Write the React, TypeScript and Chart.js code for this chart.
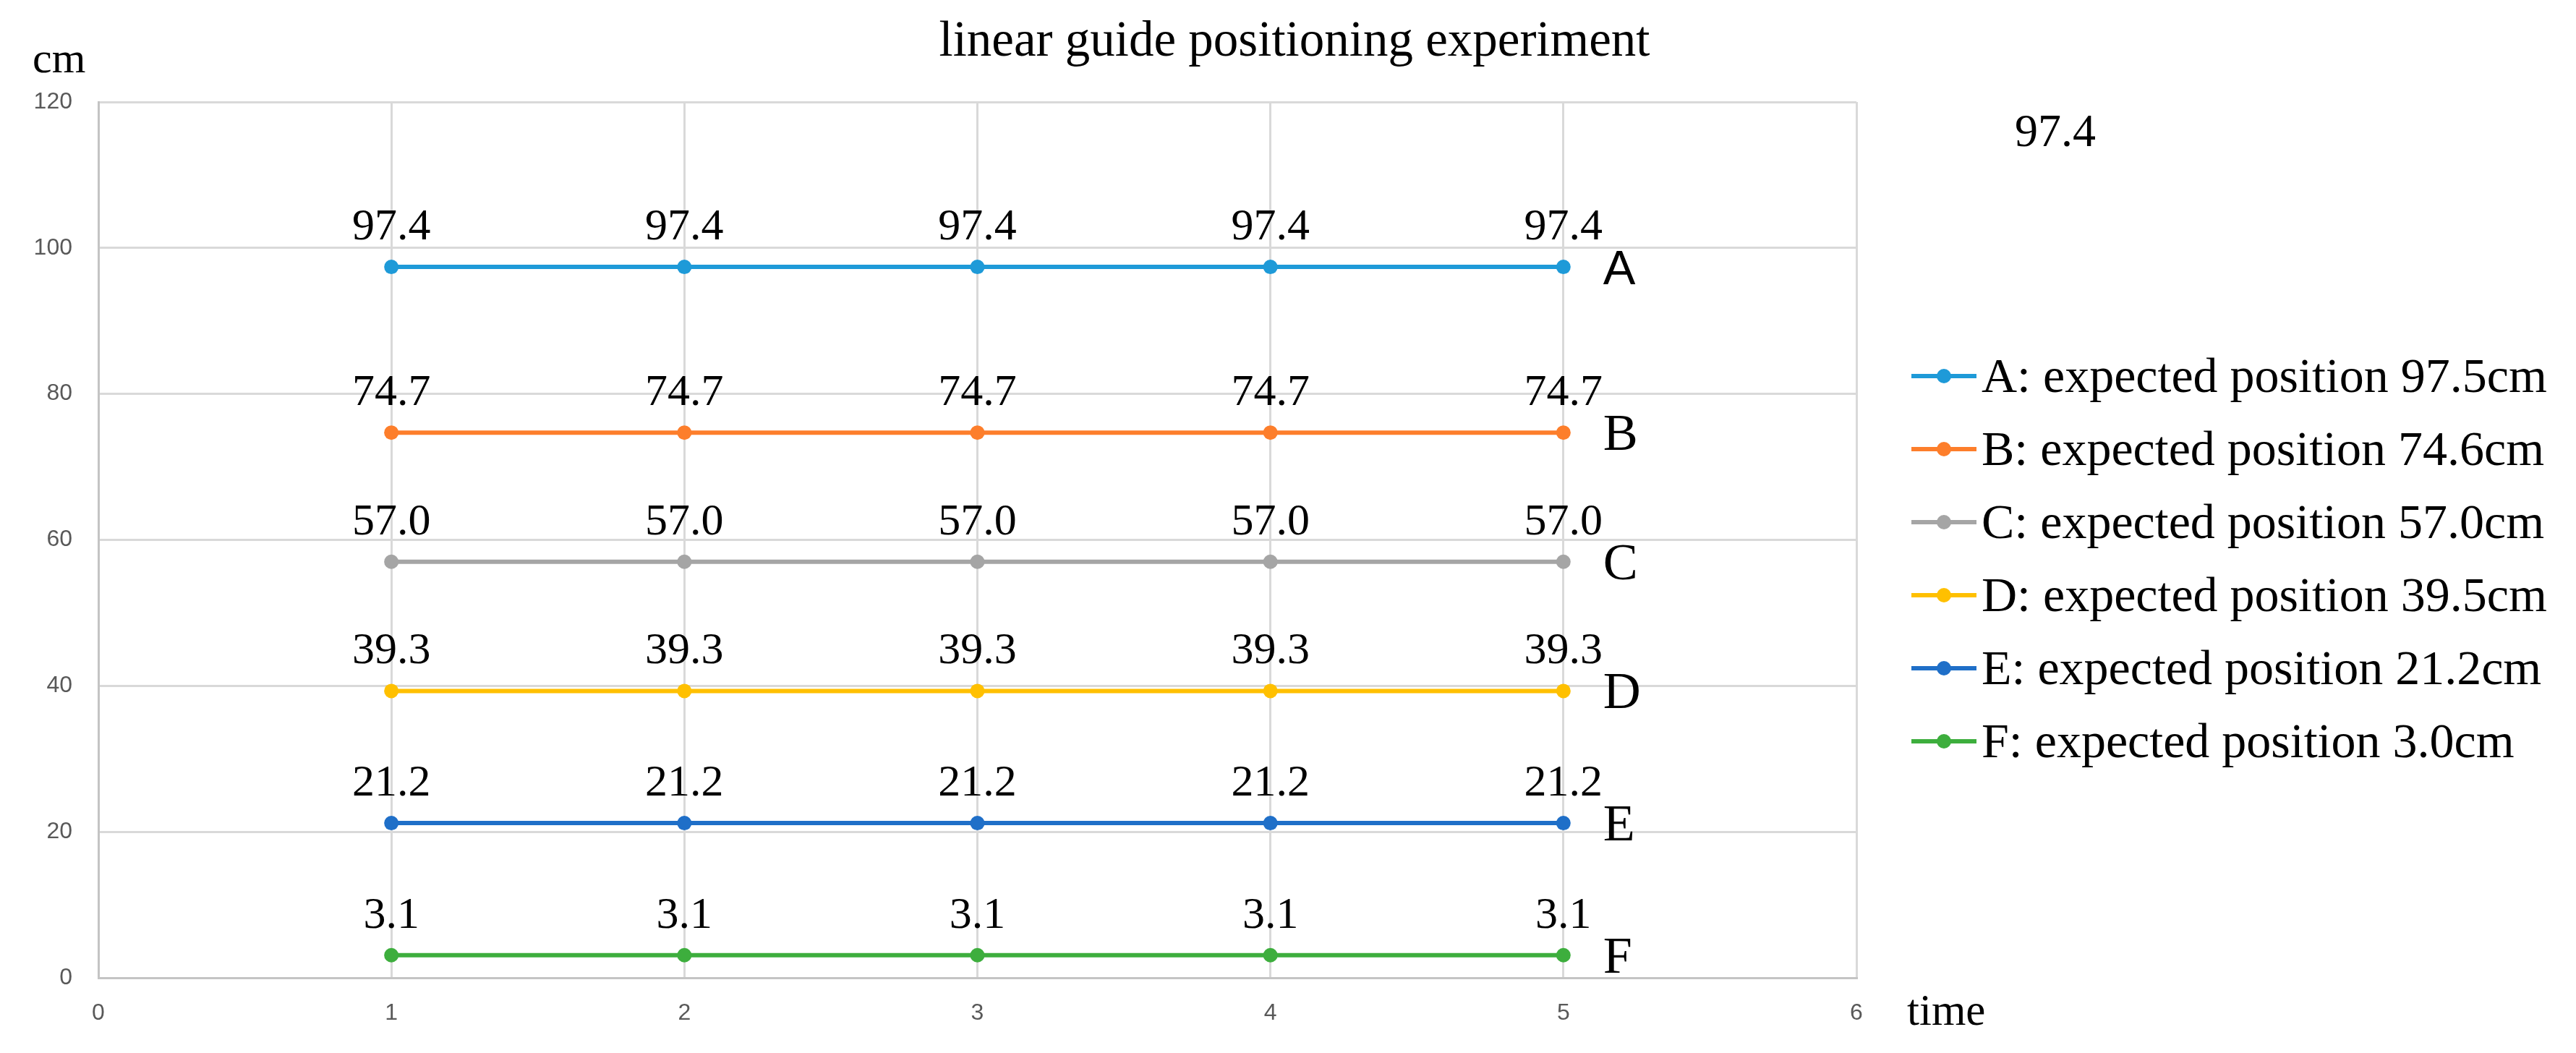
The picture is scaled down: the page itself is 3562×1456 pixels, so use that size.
import React, { useEffect, useRef } from 'react';
import { Chart, registerables } from 'chart.js';

Chart.register(...registerables);

// ---------- data ----------
const TITLE = 'linear guide positioning experiment';
const Y_UNIT = 'cm';
const X_UNIT = 'time';
const STRAY_NOTE = '97.4';

const times = [1, 2, 3, 4, 5];
const seriesA = [97.4, 97.4, 97.4, 97.4, 97.4];
const seriesB = [74.7, 74.7, 74.7, 74.7, 74.7];
const seriesC = [57.0, 57.0, 57.0, 57.0, 57.0];
const seriesD = [39.3, 39.3, 39.3, 39.3, 39.3];
const seriesE = [21.2, 21.2, 21.2, 21.2, 21.2];
const seriesF = [3.1, 3.1, 3.1, 3.1, 3.1];

const seriesValues = [seriesA, seriesB, seriesC, seriesD, seriesE, seriesF];
const seriesTags = ['A', 'B', 'C', 'D', 'E', 'F'];
const seriesNames = [
  'A: expected position 97.5cm',
  'B: expected position 74.6cm',
  'C: expected position 57.0cm',
  'D: expected position 39.5cm',
  'E: expected position 21.2cm',
  'F: expected position 3.0cm',
];
const seriesColors = ['#1e9ad8', '#fd7e2b', '#a5a5a5', '#ffc000', '#1f6fc8', '#3dae3d'];

const X_MIN = 0;
const X_MAX = 6;
const X_STEP = 1;
const Y_MIN = 0;
const Y_MAX = 120;
const Y_STEP = 20;

// ---------- styles ----------
const W = 3562;
const H = 1456;
const SERIF = '"Liberation Serif", "Times New Roman", serif';
const SANS = '"Liberation Sans", Arial, sans-serif';

const annotate = {
  id: 'annotate',
  afterDatasetsDraw(chart: any) {
    const ctx = chart.ctx;
    ctx.save();
    ctx.fillStyle = '#000';
    chart.data.datasets.forEach((ds: any, di: number) => {
      const meta = chart.getDatasetMeta(di);
      ctx.font = `62px ${SERIF}`;
      ctx.textAlign = 'center';
      ctx.textBaseline = 'alphabetic';
      meta.data.forEach((pt: any, i: number) => {
        ctx.fillText(seriesValues[di][i].toFixed(1), pt.x, pt.y - 38);
      });
      const last = meta.data[meta.data.length - 1];
      ctx.textAlign = 'left';
      ctx.font = di === 0 ? `67px ${SANS}` : `72px ${SERIF}`;
      ctx.fillText(seriesTags[di], last.x + 55, last.y + 24);
    });
    ctx.restore();
  },
  afterDraw(chart: any) {
    const ctx = chart.ctx;
    const area = chart.chartArea;
    ctx.save();
    ctx.fillStyle = '#000';
    ctx.textBaseline = 'alphabetic';

    // title
    ctx.font = `69px ${SERIF}`;
    ctx.textAlign = 'center';
    ctx.fillText(TITLE, 1790, 77);

    // axis units
    ctx.textAlign = 'left';
    ctx.font = `60px ${SERIF}`;
    ctx.fillText(Y_UNIT, 45, 100);
    ctx.font = `61px ${SERIF}`;
    ctx.fillText(X_UNIT, area.right + 70, 1417);

    // stray note
    ctx.font = `64px ${SERIF}`;
    ctx.fillText(STRAY_NOTE, area.right + 219, 202);

    // legend
    const lx0 = area.right + 76;
    const lx1 = area.right + 166;
    const rowTop = 520;
    const rowGap = 101;
    chart.data.datasets.forEach((ds: any, di: number) => {
      const y = rowTop + di * rowGap;
      ctx.strokeStyle = seriesColors[di];
      ctx.lineWidth = 6;
      ctx.beginPath();
      ctx.moveTo(lx0, y);
      ctx.lineTo(lx1, y);
      ctx.stroke();
      ctx.fillStyle = seriesColors[di];
      ctx.beginPath();
      ctx.arc((lx0 + lx1) / 2, y, 10, 0, Math.PI * 2);
      ctx.fill();
      ctx.fillStyle = '#000';
      ctx.font = `68px ${SERIF}`;
      ctx.textAlign = 'left';
      ctx.fillText(ds.label, lx1 + 7, y + 22);
    });
    ctx.restore();
  },
};

export default function App() {
  const ref = useRef<HTMLCanvasElement | null>(null);

  useEffect(() => {
    document.body.style.margin = '0';
    const canvas = ref.current;
    if (!canvas) return;
    const chart = new Chart(canvas, {
      type: 'line',
      data: {
        datasets: seriesValues.map((vals, di) => ({
          label: seriesNames[di],
          data: times.map((t, i) => ({ x: t, y: vals[i] })),
          borderColor: seriesColors[di],
          backgroundColor: seriesColors[di],
          pointBackgroundColor: seriesColors[di],
          pointBorderWidth: 0,
          pointRadius: 10,
          borderWidth: 6,
          fill: false,
          tension: 0,
        })),
      },
      options: {
        responsive: false,
        animation: false,
        devicePixelRatio: 1,
        layout: { padding: { top: 141, right: 995, bottom: 0, left: 0 } },
        plugins: {
          legend: { display: false },
          title: { display: false },
          tooltip: { enabled: false },
        },
        scales: {
          x: {
            type: 'linear',
            min: X_MIN,
            max: X_MAX,
            ticks: {
              stepSize: X_STEP,
              color: '#595959',
              font: { family: SANS, size: 32 },
              padding: 30,
            },
            grid: { color: '#d9d9d9', lineWidth: 3, drawTicks: false },
            border: { color: '#c4c4c4', width: 3 },
            afterFit: (s: any) => {
              s.height = 104;
            },
          },
          y: {
            type: 'linear',
            min: Y_MIN,
            max: Y_MAX,
            ticks: {
              stepSize: Y_STEP,
              color: '#595959',
              font: { family: SANS, size: 32 },
              padding: 36,
            },
            grid: { color: '#d9d9d9', lineWidth: 3, drawTicks: false },
            border: { color: '#c4c4c4', width: 3 },
            afterFit: (s: any) => {
              s.width = 136;
            },
          },
        },
      },
      plugins: [annotate],
    });
    return () => chart.destroy();
  }, []);

  return (
    <div style={{ width: W, height: H, background: '#fff' }}>
      <canvas ref={ref} width={W} height={H} style={{ display: 'block' }} />
    </div>
  );
}
